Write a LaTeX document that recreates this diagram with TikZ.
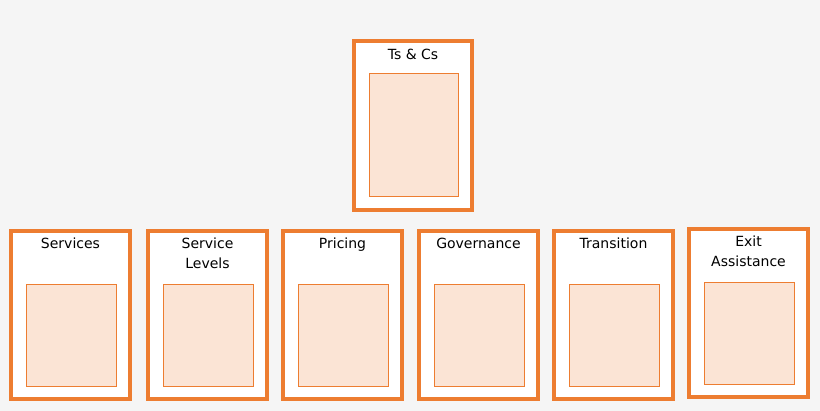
\documentclass[tikz,border=0pt]{standalone}
\usepackage{fontspec}
\setmainfont{DejaVu Sans}
\definecolor{org}{HTML}{ED7D31}
\definecolor{inn}{HTML}{FBE4D5}
\definecolor{bg}{HTML}{F5F5F5}
\begin{document}
\begin{tikzpicture}[x=1pt,y=-1pt,
  outer/.style={draw=org,line width=3.2pt,fill=white},
  inner/.style={draw=org,line width=1pt,fill=inn},
  lbl/.style={font=\fontsize{14}{20}\selectfont,align=center,anchor=north,inner sep=0pt}]
\fill[bg] (0,0) rectangle (820,411);
\useasboundingbox (0,0) rectangle (820,411);
\draw[outer] (354,41) rectangle (472,210);
\draw[inner] (369,74) rectangle (458,197);
\node[lbl] (t) at (413,49) {Ts \& Cs};
\foreach \x/\y/\t [count=\i] in {11/0/Services,148/0/Service\\Levels,283/0/Pricing,419/0/Governance,554/0/Transition,689/-2/Exit\\Assistance}{
  \draw[outer] (\x,231+\y) rectangle ++(119,168);
  \draw[inner] (\x+15,285+\y) rectangle ++(90,102);
  \node[lbl] (b\i) at (\x+59.5,238+\y) {\t};
}
\end{tikzpicture}
\end{document}
